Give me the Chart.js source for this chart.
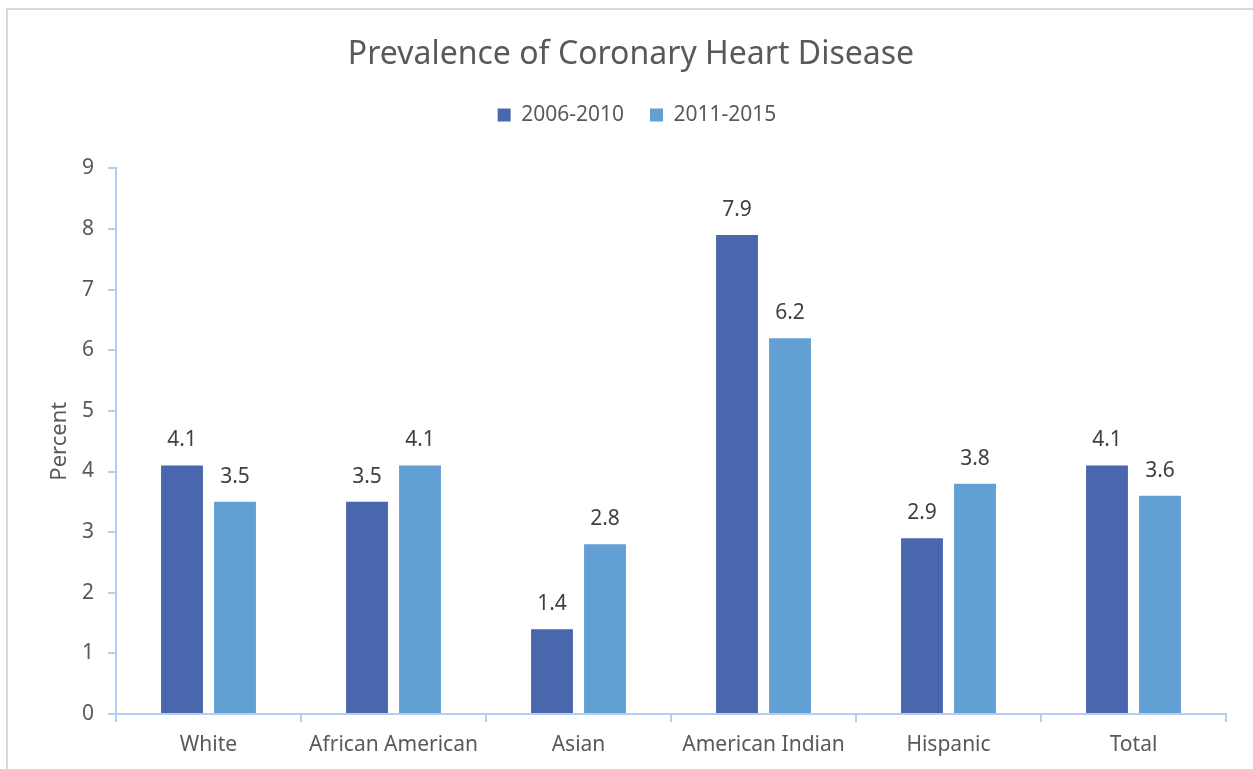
<!DOCTYPE html>
<html>
<head>
<meta charset="utf-8">
<script src="https://cdn.jsdelivr.net/npm/chart.js@4"></script>
<style>
  html, body { margin: 0; padding: 0; background: #fff; }
  #wrap { position: relative; width: 1253px; height: 769px; overflow: hidden; }
  #frame { position: absolute; left: 6px; top: 8px; width: 1400px; height: 900px;
           border-left: 2px solid #d9d9d9; border-top: 2px solid #d9d9d9; }
  canvas { position: absolute; left: 0; top: 0; }
</style>
</head>
<body>
<div id="wrap">
  <div id="frame"></div>
  <canvas id="chd" width="1253" height="769"></canvas>
</div>
<script>
// data
const groups = ['White', 'African American', 'Asian', 'American Indian', 'Hispanic', 'Total'];
const period1 = [4.1, 3.5, 1.4, 7.9, 2.9, 4.1];   // 2006-2010
const period2 = [3.5, 4.1, 2.8, 6.2, 3.8, 3.6];   // 2011-2015
const yTicks = [0, 1, 2, 3, 4, 5, 6, 7, 8, 9];

const axisColor = '#b4cdf0';
const textColor = '#595959';
const fontFamily = '"Noto Sans", "Open Sans", sans-serif';

// values above each bar
const barLabels = {
    id: 'barLabels',
    afterDatasetsDraw(chart) {
        const ctx = chart.ctx;
        ctx.save();
        ctx.font = '21px ' + fontFamily;
        ctx.fillStyle = '#404040';
        ctx.textAlign = 'center';
        ctx.textBaseline = 'alphabetic';
        chart.data.datasets.forEach((ds, i) => {
            chart.getDatasetMeta(i).data.forEach((bar, j) => {
                ctx.fillText(ds.data[j].toFixed(1), bar.x, bar.y - 19);
            });
        });
        ctx.restore();
    }
};

// shift a box sideways when it is drawn
function nudge(box, dx) {
    const draw = box.draw.bind(box);
    box.draw = function () {
        const c = this.ctx;
        c.save();
        c.translate(dx, 0);
        draw();
        c.restore();
    };
}

// extra room below the legend, and centre title/legend on the whole canvas
const headerTweaks = {
    id: 'headerTweaks',
    afterInit(chart) {
        const lg = chart.legend;
        const fit = lg.fit.bind(lg);
        lg.fit = function () { fit(); this.height += 33; };
        nudge(lg, 24);
        nudge(chart.titleBlock, 18);
    }
};

const ctx = document.getElementById('chd').getContext('2d');
new Chart(ctx, {
    type: 'bar',
    data: {
        labels: groups,
        datasets: [{
            label: '2006-2010',
            data: period1,
            backgroundColor: '#4a66ac',
            categoryPercentage: 0.573,
            barPercentage: 0.79
        }, {
            label: '2011-2015',
            data: period2,
            backgroundColor: '#629fd3',
            categoryPercentage: 0.573,
            barPercentage: 0.79
        }]
    },
    options: {
        responsive: false,
        animation: false,
        layout: { padding: { left: 0, right: 27, top: 0, bottom: 0 } },
        plugins: {
            title: {
                display: true,
                text: 'Prevalence of Coronary Heart Disease',
                color: textColor,
                font: { family: fontFamily, size: 32, weight: 'normal' },
                padding: { top: 36, bottom: 4 }
            },
            legend: {
                position: 'top',
                labels: {
                    color: textColor,
                    font: { family: fontFamily, size: 21 },
                    boxWidth: 13,
                    boxHeight: 13,
                    padding: 26
                }
            },
            tooltip: { enabled: false }
        },
        scales: {
            x: {
                grid: { drawOnChartArea: false, color: axisColor, tickLength: 8, lineWidth: 2 },
                border: { color: axisColor, width: 2 },
                ticks: { color: textColor, font: { family: fontFamily, size: 21 }, padding: 10 },
                afterFit(scale) { scale.height = 55; }
            },
            y: {
                min: 0,
                max: 9,
                afterBuildTicks(scale) { scale.ticks = yTicks.map(v => ({ value: v })); },
                grid: { drawOnChartArea: false, color: axisColor, tickLength: 8, lineWidth: 2 },
                border: { color: axisColor, width: 2 },
                ticks: { color: textColor, font: { family: fontFamily, size: 21 }, padding: 14 },
                title: {
                    display: true,
                    text: 'Percent',
                    color: textColor,
                    font: { family: fontFamily, size: 22 },
                    padding: { top: 47, bottom: 0 }
                },
                afterFit(scale) { scale.width = 116; }
            }
        }
    },
    plugins: [barLabels, headerTweaks]
});
</script>
</body>
</html>
